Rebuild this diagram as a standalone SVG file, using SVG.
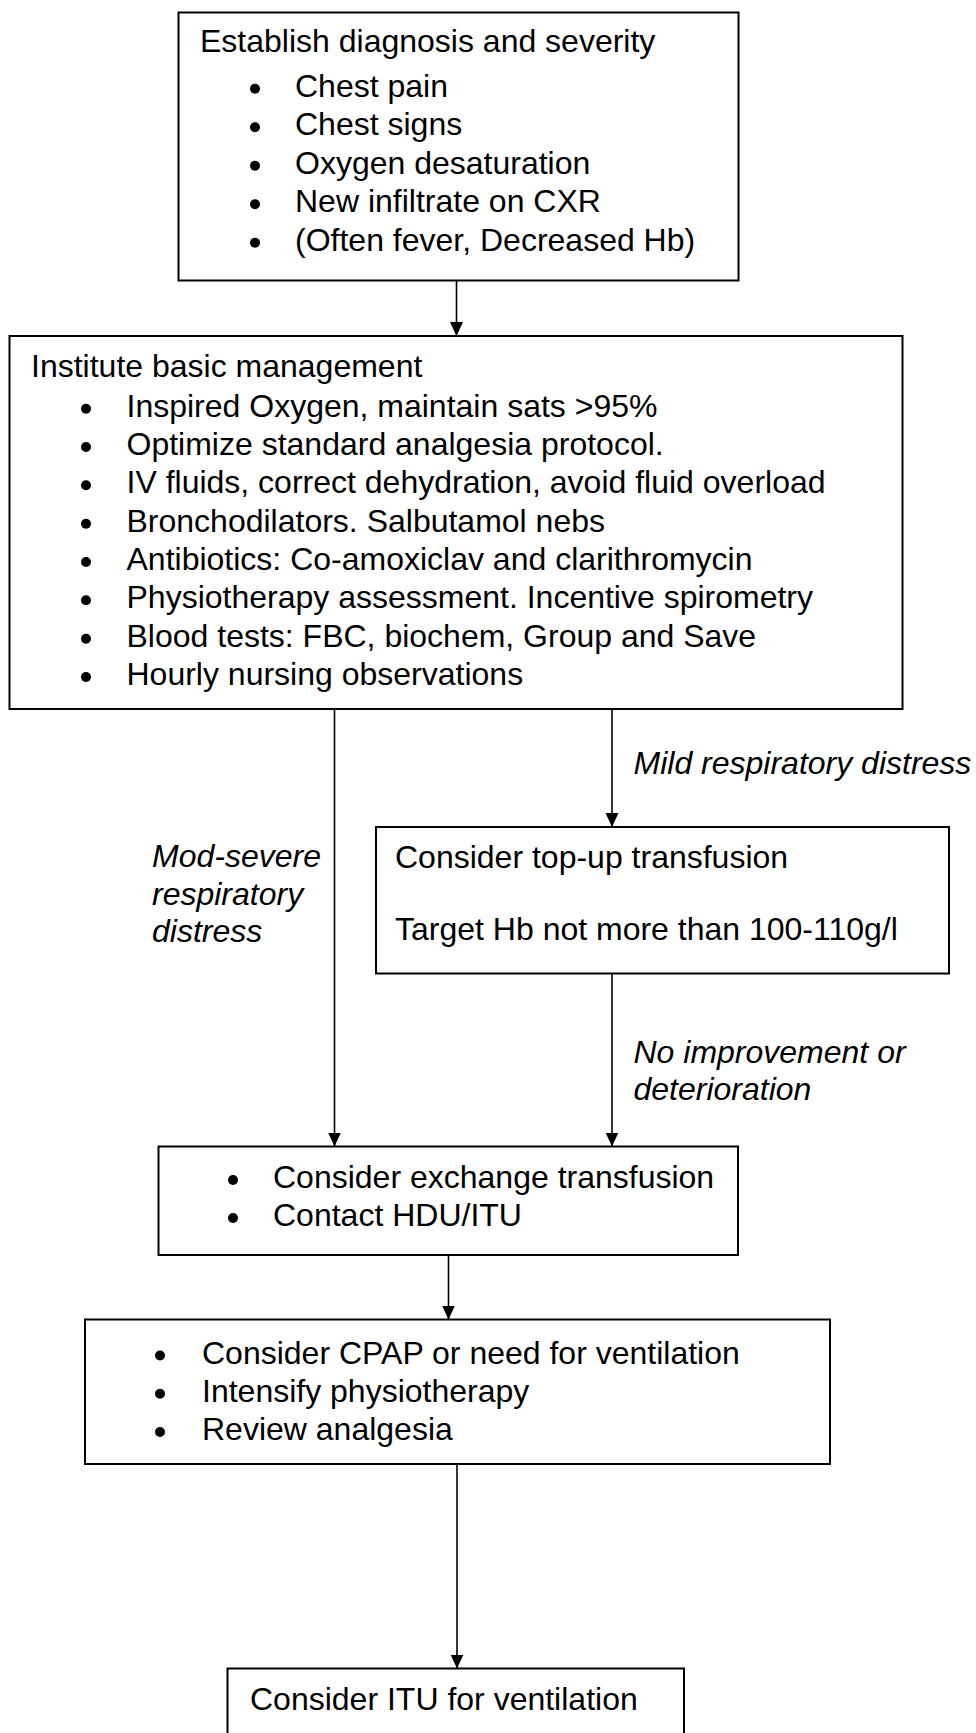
<svg xmlns="http://www.w3.org/2000/svg" width="976" height="1733" viewBox="0 0 976 1733">
<style>
.box{fill:#fff;stroke:#000;stroke-width:2}
.t{font-family:"Liberation Sans",Arial,sans-serif;font-size:32px;fill:#000}
.i{font-style:italic}
.dot{fill:#000}
.c{stroke:#000;stroke-width:1.6;fill:none;marker-end:url(#ah)}
</style>
<defs>
<marker id="ah" markerUnits="userSpaceOnUse" viewBox="0 0 14 14" markerWidth="14" markerHeight="14" refX="14" refY="7" orient="auto">
<path d="M0,0.5 L14,7 L0,13.5 z" fill="#000"/>
</marker>
</defs>
<rect width="976" height="1733" fill="#fff"/>
<g id="connectors">
<line class="c" x1="456.5" y1="281" x2="456.5" y2="336"/>
<line class="c" x1="334.5" y1="709" x2="334.5" y2="1146.5"/>
<line class="c" x1="612" y1="709" x2="612" y2="827"/>
<line class="c" x1="612" y1="973.5" x2="612" y2="1146.5"/>
<line class="c" x1="448.5" y1="1255" x2="448.5" y2="1319.5"/>
<line class="c" x1="457" y1="1464" x2="457" y2="1668.5"/>
</g>
<g id="labels">
<text class="t i" x="633.5" y="774">Mild respiratory distress</text>
<text class="t i" x="152" y="867">Mod-severe</text>
<text class="t i" x="152" y="904.5">respiratory</text>
<text class="t i" x="152" y="942">distress</text>
<text class="t i" x="633.5" y="1063">No improvement or</text>
<text class="t i" x="633.5" y="1100">deterioration</text>
</g>
<g id="n1">
<rect class="box" x="178.5" y="12.5" width="560" height="268"/>
<text class="t" x="200" y="52">Establish diagnosis and severity</text>
<circle class="dot" cx="255" cy="88.7" r="5"/>
<text class="t" x="295" y="96.7">Chest pain</text>
<circle class="dot" cx="255" cy="127.2" r="5"/>
<text class="t" x="295" y="135.2">Chest signs</text>
<circle class="dot" cx="255" cy="165.7" r="5"/>
<text class="t" x="295" y="173.7">Oxygen desaturation</text>
<circle class="dot" cx="255" cy="204.2" r="5"/>
<text class="t" x="295" y="212.2">New infiltrate on CXR</text>
<circle class="dot" cx="255" cy="242.7" r="5"/>
<text class="t" x="295" y="250.7">(Often fever, Decreased Hb)</text>
</g>
<g id="n2">
<rect class="box" x="9.5" y="336" width="893" height="373"/>
<text class="t" x="31" y="377">Institute basic management</text>
<circle class="dot" cx="86" cy="408.7" r="5"/>
<text class="t" x="126.5" y="416.7">Inspired Oxygen, maintain sats &gt;95%</text>
<circle class="dot" cx="86" cy="447" r="5"/>
<text class="t" x="126.5" y="455">Optimize standard analgesia protocol.</text>
<circle class="dot" cx="86" cy="485.3" r="5"/>
<text class="t" x="126.5" y="493.3">IV fluids, correct dehydration, avoid fluid overload</text>
<circle class="dot" cx="86" cy="523.7" r="5"/>
<text class="t" x="126.5" y="531.7">Bronchodilators. Salbutamol nebs</text>
<circle class="dot" cx="86" cy="562" r="5"/>
<text class="t" x="126.5" y="570">Antibiotics: Co-amoxiclav and clarithromycin</text>
<circle class="dot" cx="86" cy="600.3" r="5"/>
<text class="t" x="126.5" y="608.3">Physiotherapy assessment. Incentive spirometry</text>
<circle class="dot" cx="86" cy="638.7" r="5"/>
<text class="t" x="126.5" y="646.7">Blood tests: FBC, biochem, Group and Save</text>
<circle class="dot" cx="86" cy="677" r="5"/>
<text class="t" x="126.5" y="685">Hourly nursing observations</text>
</g>
<g id="n3">
<rect class="box" x="376" y="827" width="573" height="146.5"/>
<text class="t" x="395" y="868">Consider top-up transfusion</text>
<text class="t" x="395" y="940">Target Hb not more than 100-110g/l</text>
</g>
<g id="n4">
<rect class="box" x="158.5" y="1146.5" width="579.5" height="108.5"/>
<circle class="dot" cx="233" cy="1180" r="5"/>
<text class="t" x="273" y="1188">Consider exchange transfusion</text>
<circle class="dot" cx="233" cy="1218" r="5"/>
<text class="t" x="273" y="1226">Contact HDU/ITU</text>
</g>
<g id="n5">
<rect class="box" x="85" y="1319.5" width="745" height="144.5"/>
<circle class="dot" cx="160" cy="1355.5" r="5"/>
<text class="t" x="202" y="1363.5">Consider CPAP or need for ventilation</text>
<circle class="dot" cx="160" cy="1393.8" r="5"/>
<text class="t" x="202" y="1401.8">Intensify physiotherapy</text>
<circle class="dot" cx="160" cy="1432" r="5"/>
<text class="t" x="202" y="1440">Review analgesia</text>
</g>
<g id="n6">
<rect class="box" x="227.5" y="1668.5" width="456.5" height="80"/>
<text class="t" x="250" y="1709.5">Consider ITU for ventilation</text>
</g>
</svg>
